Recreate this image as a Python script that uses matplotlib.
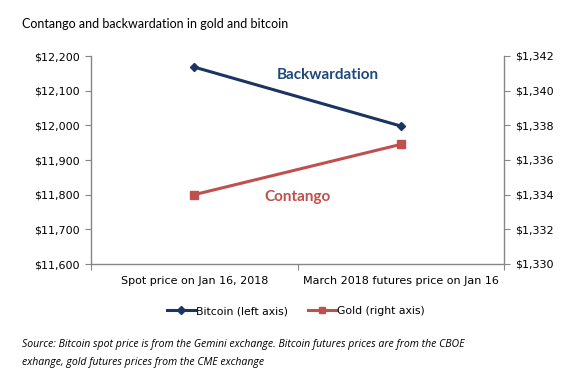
import matplotlib
matplotlib.use("Agg")
import matplotlib.pyplot as plt
from matplotlib.ticker import FuncFormatter, FixedLocator

categories = ["Spot price on Jan 16, 2018", "March 2018 futures price on Jan 16"]
bitcoin = [12168, 11998]
gold = [1334.0, 1336.9]
left_ticks = [11600, 11700, 11800, 11900, 12000, 12100, 12200]
right_ticks = [1330, 1332, 1334, 1336, 1338, 1340, 1342]

navy = "#1B3462"
red = "#C0504D"
grey = "#868686"

fig = plt.figure(figsize=(5.86, 3.89), dpi=100)
ax = fig.add_axes([91/586, 1-264/389, (504-91)/586, (264-56)/389])
ax2 = ax.twinx()

x = list(range(len(categories)))
l1, = ax.plot(x, bitcoin, color=navy, lw=2.2, marker="D", ms=4.5, label="Bitcoin (left axis)")
l2, = ax2.plot(x, gold, color=red, lw=2.2, marker="s", ms=5.5, label="Gold (right axis)")

ax.set_xlim(-0.5, 1.5)
ax.set_ylim(left_ticks[0], left_ticks[-1])
ax2.set_ylim(right_ticks[0], right_ticks[-1])
ax.set_yticks(left_ticks)
ax2.set_yticks(right_ticks)
ax.yaxis.set_major_formatter(FuncFormatter(lambda v, p: f"${v:,.0f}"))
ax2.yaxis.set_major_formatter(FuncFormatter(lambda v, p: f"${v:,.0f}"))

ax.xaxis.set_major_locator(FixedLocator([-0.5, 0.5, 1.5]))
ax.xaxis.set_minor_locator(FixedLocator(x))
ax.set_xticklabels([])
ax.set_xticklabels(categories, minor=True)
ax.tick_params(axis="x", which="major", length=4, color=grey, direction="out")
ax.tick_params(axis="x", which="minor", length=0, pad=9, labelsize=8, labelcolor="black")

for a in (ax, ax2):
    for s in a.spines.values():
        s.set_visible(False)
ax.spines["left"].set_visible(True)
ax.spines["bottom"].set_visible(True)
ax2.spines["right"].set_visible(True)
for s in (ax.spines["left"], ax.spines["bottom"], ax2.spines["right"]):
    s.set_color(grey)
    s.set_linewidth(1.0)

ax.tick_params(axis="y", length=4, color=grey, labelsize=8, pad=4)
ax2.tick_params(axis="y", length=4, color=grey, labelsize=8, pad=4)
ax.patch.set_visible(False)

ax.text(0.648, 12145, "Backwardation", color="#1F497D", fontsize=11, fontweight="bold",
        ha="center", va="center", family="Lato")
ax2.text(0.502, 1333.87, "Contango", color=red, fontsize=11, fontweight="bold",
         ha="center", va="center", family="Lato")

fig.text(22/586, 1-24/389, "Contango and backwardation in gold and bitcoin", fontsize=9,
         family="Lato", ha="left", va="center")

fig.legend(handles=[l1, l2], loc="center", bbox_to_anchor=(296/586, 1-311/389), ncol=2,
           frameon=False, fontsize=7.8, handlelength=2.6, columnspacing=1.8, handletextpad=0.1,
           markerscale=0.8)

fig.text(22/586, 1-344/389, "Source: Bitcoin spot price is from the Gemini exchange. Bitcoin futures prices are from the CBOE",
         fontsize=7.6, style="italic", family="Open Sans", ha="left", va="center")
fig.text(22/586, 1-362/389, "exhange, gold futures prices from the CME exchange",
         fontsize=7.6, style="italic", family="Open Sans", ha="left", va="center")

fig.savefig("out.png", dpi=100)
